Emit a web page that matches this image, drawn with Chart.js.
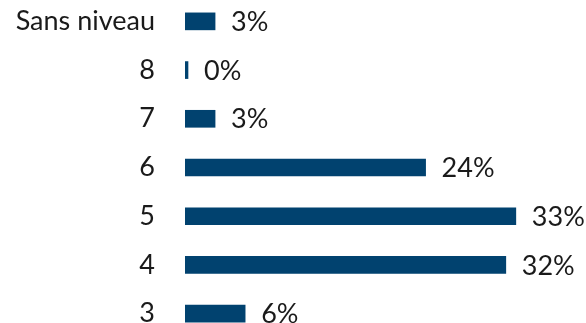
<!DOCTYPE html>
<html>
<head>
<meta charset="utf-8">
<script src="https://cdn.jsdelivr.net/npm/chart.js@4"></script>
<style>
  html, body { margin: 0; padding: 0; background: #fff; overflow: hidden; }
  #graficoNiveaux { position: absolute; left: 0; top: -3px; }
</style>
</head>
<body>
<canvas id="graficoNiveaux" width="586" height="341"></canvas>
<script>
// categorias e valores (%)
const niveaux = ['Sans niveau', '8', '7', '6', '5', '4', '3'];
const pourcentages = [3, 0, 3, 24, 33, 32, 6];

const corBarra = '#01426F';
const corTexto = '#1a1a1a';
const fonte = 'Lato, "Open Sans", sans-serif';
const tamanhoFonte = 27;

// escreve o valor a direita de cada barra
const rotulosValores = {
  id: 'rotulosValores',
  afterDatasetsDraw(chart) {
    const ctx = chart.ctx;
    const meta = chart.getDatasetMeta(0);
    ctx.save();
    ctx.font = tamanhoFonte + 'px ' + fonte;
    ctx.fillStyle = corTexto;
    ctx.textAlign = 'left';
    ctx.textBaseline = 'middle';
    meta.data.forEach((barra, i) => {
      const fim = Math.max(barra.x, barra.base + 3);
      ctx.fillText(pourcentages[i] + '%', fim + 16, barra.y + 1);
    });
    ctx.restore();
  }
};

const contexto = document.getElementById('graficoNiveaux').getContext('2d');
new Chart(contexto, {
  type: 'bar',
  data: {
    labels: niveaux,
    datasets: [{
      data: pourcentages,
      backgroundColor: corBarra,
      barThickness: 17,
      minBarLength: 3
    }]
  },
  options: {
    indexAxis: 'y',
    responsive: false,
    animation: false,
    layout: { padding: 0 },
    plugins: { legend: { display: false }, tooltip: { enabled: false } },
    scales: {
      x: {
        min: 0,
        max: 40,
        display: false
      },
      y: {
        grid: { display: false },
        border: { display: false },
        ticks: {
          color: corTexto,
          font: { family: fonte, size: tamanhoFonte },
          padding: 22
        },
        // largura fixa e sem folga vertical nas pontas
        afterFit(scale) {
          scale.width = 185;
          scale.paddingTop = 0;
          scale.paddingBottom = 0;
        }
      }
    }
  },
  plugins: [rotulosValores]
});
</script>
</body>
</html>
